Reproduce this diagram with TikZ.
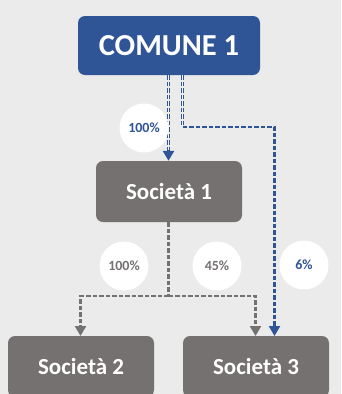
\documentclass[tikz,border=0pt]{standalone}
\usepackage{fontspec}
\setmainfont{Carlito}
\usetikzlibrary{arrows.meta,calc}
\definecolor{bg}{HTML}{EBEBEB}
\definecolor{cblue}{HTML}{2F5597}
\definecolor{cgray}{HTML}{767171}
\tikzset{
  box/.style={rectangle, rounded corners=7pt, draw=none, text=white, font=\bfseries\fontsize{23}{26}\selectfont, minimum width=146pt, minimum height=61pt, inner sep=0pt},
  pct/.style={circle, fill=white, minimum size=49pt, inner sep=0pt, font=\bfseries\fontsize{14}{16}\selectfont},
  dline/.style={line width=2.4pt, dash pattern=on 4.5pt off 2pt},
  tip/.style={-{Triangle[width=11pt,length=10pt]}},
  core/.style={line width=1pt, dash pattern=on 4.5pt off 2pt, draw=white!60!bg}
}
\begin{document}
\begin{tikzpicture}[x=1pt,y=-1pt]
\fill[bg] (0,0) rectangle (341,394);
\useasboundingbox (0,0) rectangle (341,394);
\begin{scope}
\clip (0,0) rectangle (341,394);
\node[box, fill=cblue, minimum width=182pt, minimum height=59pt, font=\bfseries\fontsize{30.5}{34}\selectfont] (com) at (169,45.5) {COMUNE 1};
\node[box, fill=cgray] (s1) at (169,191.5) {Società 1};
\node[box, fill=cgray] (s2) at (81,366.5) {Società 2};
\node[box, fill=cgray] (s3) at (256,366.5) {Società 3};

% Comune -> Societa 1
\draw[dline, line width=3.6pt, draw=cblue, tip] ([xshift=-0.5pt]com.south) -- ([xshift=-0.5pt]s1.north);
\draw[core, shorten >=11pt] ([xshift=-0.5pt]com.south) -- ([xshift=-0.5pt]s1.north);

% Comune -> Societa 3
\coordinate (a0) at (182.5,75);
\coordinate (b1) at (182.5,127);
\coordinate (b2) at (274.5,127);
\coordinate (b3) at (274.5,336);
\draw[dline, line width=3.6pt, draw=cblue] (a0) -- (b1);
\draw[core] (a0) -- (b1);
\draw[dline, draw=cblue, tip] (b1) -- (b2) -- (b3);

% Societa 1 -> Societa 2, 3
\coordinate (j) at (168.5,296);
\coordinate (l) at (80.5,296);
\coordinate (r) at (255.5,296);
\coordinate (l2) at (80.5,336);
\coordinate (r2) at (255.5,336);
\draw[dline, draw=cgray] ([xshift=-0.5pt]s1.south) -- (j);
\draw[dline, draw=cgray, tip] (j) -- (l) -- (l2);
\draw[dline, draw=cgray, tip] (j) -- (r) -- (r2);

% labels
\node[pct, text=cblue] (p1) at (144,128) {100\%};
\node[pct, text=cgray] (p2) at (124,266) {100\%};
\node[pct, text=cgray] (p3) at (217,266) {45\%};
\node[pct, text=cblue] (p4) at (304,265) {6\%};
\end{scope}
\end{tikzpicture}
\end{document}
